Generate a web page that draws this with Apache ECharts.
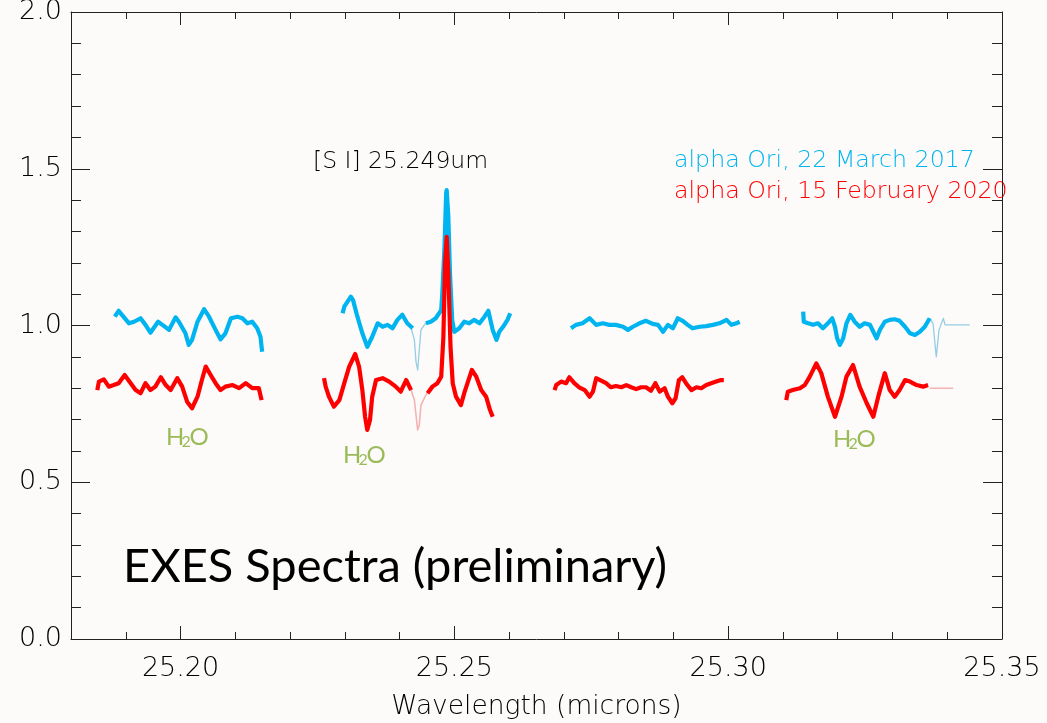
<!DOCTYPE html>
<html>
<head>
<meta charset="utf-8">
<script src="https://cdn.jsdelivr.net/npm/echarts@6/dist/echarts.min.js"></script>
<style>
html,body{margin:0;padding:0;background:#fcfbfa;}
#chart{width:1047px;height:723px;}
</style>
</head>
<body>
<div id="chart"></div>
<script>
// ---- Data (null separates spectral orders) ----
const blueWave = [
 25.1880,25.1887,25.1893,25.1906,25.1915,25.1927,25.1936,25.1945,25.1959,25.1970,25.1979,25.1991,25.1997,25.2009,25.2015,25.2021,25.2031,25.2043,25.2052,25.2064,25.2073,25.2082,25.2092,25.2104,25.2113,25.2122,25.2131,25.2140,25.2146,25.2149,
 null,
 25.2296,25.2299,25.2311,25.2315,25.2323,25.2332,25.2341,25.2350,25.2360,25.2369,25.2378,25.2387,25.2396,25.2405,25.2414,25.2424,
 null,
 25.2448,25.2457,25.2466,25.2476,25.2478,25.2482,25.2485,25.2486,25.2489,25.2492,25.2496,25.2500,25.2509,25.2518,25.2527,25.2536,25.2546,25.2555,25.2562,25.2570,25.2577,25.2582,25.2589,25.2597,25.2602,
 null,
 25.2713,25.2722,25.2734,25.2747,25.2759,25.2771,25.2783,25.2795,25.2808,25.2817,25.2826,25.2838,25.2850,25.2862,25.2872,25.2881,25.2890,25.2899,25.2908,25.2917,25.2926,25.2935,25.2948,25.2960,25.2972,25.2984,25.2997,25.3006,25.3015,25.3021,
 null,
 25.3137,25.3138,25.3146,25.3155,25.3164,25.3173,25.3182,25.3190,25.3195,25.3199,25.3204,25.3210,25.3216,25.3223,25.3231,25.3240,25.3249,25.3259,25.3265,25.3271,25.3277,25.3286,25.3295,25.3304,25.3313,25.3323,25.3332,25.3341,25.3350,25.3359,25.3368
];
const blueFlux = [
 1.028,1.047,1.034,1.007,1.012,1.023,1.002,0.977,1.012,0.998,0.986,1.026,1.012,0.975,0.938,0.954,1.012,1.052,1.028,0.986,0.956,0.975,1.023,1.028,1.023,1.007,1.012,0.991,0.964,0.916,
 null,
 1.039,1.060,1.092,1.081,1.028,0.975,0.932,0.964,1.007,0.996,1.002,0.991,1.018,1.034,1.007,0.991,
 null,
 1.007,1.012,1.023,1.049,1.103,1.251,1.422,1.432,1.347,1.167,1.018,0.980,0.991,1.012,1.007,1.018,1.007,1.028,1.047,0.986,0.954,0.980,0.996,1.018,1.039,
 null,
 0.991,1.002,1.007,1.023,1.002,1.007,1.002,1.002,0.996,0.986,0.996,1.007,1.015,1.005,1.002,0.980,1.002,0.991,1.023,1.015,1.002,0.991,0.996,0.998,1.002,1.007,1.018,1.002,1.007,1.012,
 null,
 1.044,1.012,1.007,1.002,1.007,0.991,1.007,1.023,0.996,0.959,0.938,0.959,1.007,1.034,1.012,0.996,1.007,1.002,0.980,0.959,0.986,1.012,1.018,1.020,1.015,0.996,0.975,0.970,0.980,0.996,1.023
];
// masked (telluric) parts of the 2017 spectrum
const blueMaskWave = [25.2421,25.2427,25.2430,25.2433,25.2436,25.2439,25.2448, null, 25.3368,25.3374,25.3380,25.3385,25.3393,25.3396,25.3441];
const blueMaskFlux = [0.992,0.954,0.884,0.858,0.922,0.986,1.008, null, 1.023,1.007,0.900,0.986,1.023,1.002,1.002];

const redWave = [
 25.1848,25.1851,25.1860,25.1869,25.1878,25.1887,25.1898,25.1909,25.1918,25.1927,25.1936,25.1945,25.1954,25.1964,25.1973,25.1982,25.1994,25.2003,25.2012,25.2021,25.2031,25.2039,25.2046,25.2055,25.2064,25.2073,25.2082,25.2095,25.2107,25.2119,25.2131,25.2143,25.2148,
 null,
 25.2262,25.2265,25.2271,25.2280,25.2290,25.2299,25.2308,25.2319,25.2326,25.2332,25.2337,25.2341,25.2346,25.2350,25.2357,25.2369,25.2381,25.2393,25.2402,25.2412,25.2421,
 null,
 25.2451,25.2460,25.2469,25.2476,25.2480,25.2483,25.2486,25.2489,25.2493,25.2497,25.2503,25.2512,25.2518,25.2524,25.2532,25.2540,25.2549,25.2558,25.2565,25.2570,
 null,
 25.2683,25.2686,25.2695,25.2704,25.2710,25.2719,25.2728,25.2738,25.2747,25.2753,25.2759,25.2768,25.2777,25.2786,25.2795,25.2805,25.2814,25.2823,25.2832,25.2841,25.2850,25.2859,25.2867,25.2875,25.2884,25.2890,25.2898,25.2904,25.2910,25.2916,25.2923,25.2933,25.2942,25.2951,25.2960,25.2969,25.2978,25.2987,25.2992,
 null,
 25.3106,25.3109,25.3118,25.3131,25.3140,25.3149,25.3161,25.3170,25.3182,25.3195,25.3207,25.3216,25.3228,25.3240,25.3253,25.3265,25.3274,25.3286,25.3295,25.3304,25.3313,25.3323,25.3332,25.3344,25.3356,25.3365
];
const redFlux = [
 0.794,0.821,0.828,0.805,0.810,0.816,0.842,0.816,0.794,0.784,0.816,0.794,0.805,0.835,0.810,0.794,0.832,0.805,0.757,0.736,0.773,0.826,0.869,0.842,0.816,0.794,0.805,0.810,0.800,0.816,0.800,0.800,0.762,
 null,
 0.832,0.805,0.773,0.741,0.762,0.816,0.869,0.909,0.869,0.794,0.709,0.667,0.699,0.773,0.826,0.832,0.821,0.805,0.789,0.826,0.794,
 null,
 0.784,0.805,0.816,0.837,0.964,1.198,1.283,1.167,0.932,0.816,0.773,0.746,0.784,0.816,0.858,0.837,0.794,0.773,0.731,0.709,
 null,
 0.794,0.810,0.821,0.816,0.835,0.816,0.803,0.794,0.773,0.789,0.832,0.824,0.816,0.803,0.807,0.803,0.810,0.803,0.797,0.803,0.803,0.792,0.816,0.789,0.800,0.773,0.752,0.768,0.826,0.835,0.816,0.794,0.803,0.800,0.810,0.816,0.821,0.826,0.826,
 null,
 0.762,0.789,0.794,0.800,0.810,0.837,0.879,0.848,0.773,0.709,0.773,0.837,0.874,0.805,0.752,0.709,0.773,0.848,0.794,0.773,0.794,0.826,0.821,0.810,0.805,0.810
];
const redMaskWave = [25.2421,25.2427,25.2433,25.2436,25.2439,25.2448,25.2451, null, 25.3368,25.3411];
const redMaskFlux = [0.794,0.762,0.667,0.683,0.746,0.778,0.784, null, 0.800,0.800];

const xTickValues = [25.20, 25.25, 25.30, 25.35];
const yTickValues = [0.0, 0.5, 1.0, 1.5, 2.0];
const xAxisName = 'Wavelength (microns)';
const legendLabels = ['alpha Ori, 22 March 2017', 'alpha Ori, 15 February 2020'];
const lineLabel = '[S I] 25.249um';
const titleText = 'EXES Spectra (preliminary)';

// ---- build ----
function segments(w, f) {
  const out = []; let cur = [];
  w.forEach((x, i) => {
    if (x === null) { if (cur.length) out.push(cur); cur = []; }
    else cur.push([x, f[i]]);
  });
  if (cur.length) out.push(cur);
  return out;
}
function mk(w, f, color, width) {
  return segments(w, f).map(d => ({
    type: 'line', data: d, showSymbol: false, symbol: 'none', silent: true,
    xAxisIndex: 0, yAxisIndex: 0,
    lineStyle: { color: color, width: width, join: 'round' }
  }));
}
const BLUE = '#00b4f0', RED = '#ff0000', GREEN = '#9bbb59', INK = '#000000';
const series = [].concat(
  mk(blueMaskWave, blueMaskFlux, '#95cde3', 1.3),
  mk(blueWave, blueFlux, BLUE, 4.2),
  mk(redMaskWave, redMaskFlux, '#f3b3b3', 1.6),
  mk(redWave, redFlux, RED, 4.2)
);

const FW = 200;
const axFont = { fontFamily: 'DejaVu Sans', fontWeight: FW, fontSize: 27, color: INK };
const lineCol = { color: '#222', width: 1 };
function xAx(pos, major, labels) {
  const a = {
    type: 'value', position: pos, min: 25.18, max: 25.35, interval: 0.01,
    axisLine: { show: !major, onZero: false, lineStyle: lineCol },
    axisTick: { show: true, inside: true, length: major ? 13 : 7, lineStyle: lineCol },
    axisLabel: { show: false },
    splitLine: { show: false }, axisPointer: { show: false }
  };
  if (major) a.axisTick.customValues = xTickValues;
  if (labels) {
    a.axisLabel = Object.assign({ show: true, customValues: xTickValues, margin: 16,
      formatter: v => Number(v).toFixed(2) }, axFont);
    a.name = xAxisName; a.nameLocation = 'middle'; a.nameGap = 55;
    a.nameTextStyle = { fontFamily: 'DejaVu Sans', fontWeight: FW, fontSize: 26.5, color: INK };
  }
  return a;
}
function yAx(pos, labels) {
  return {
    type: 'value', position: pos, min: 0, max: 2, interval: 0.5,
    axisLine: { show: true, onZero: false, lineStyle: lineCol },
    axisTick: { show: true, inside: true, length: 19, lineStyle: lineCol },
    minorTick: { show: true, splitNumber: 5, length: 10, lineStyle: lineCol },
    axisLabel: labels ? Object.assign({ show: true, margin: 9,
      formatter: v => Number(v).toFixed(1) }, axFont) : { show: false },
    splitLine: { show: false }, minorSplitLine: { show: false }
  };
}

function h2o(x0, yc) {
  const f = 'Lato';
  return {
    type: 'group', children: [
      { type: 'text', x: x0, y: yc, style: { text: 'H', fontFamily: f, fontSize: 24, fill: GREEN, verticalAlign: 'middle' } },
      { type: 'text', x: x0 + 15.5, y: yc + 5, style: { text: '2', fontFamily: f, fontSize: 16, fill: GREEN, verticalAlign: 'middle' } },
      { type: 'text', x: x0 + 23.5, y: yc, style: { text: 'O', fontFamily: f, fontSize: 24, fill: GREEN, verticalAlign: 'middle' } }
    ]
  };
}

const chart = echarts.init(document.getElementById('chart'), null, { renderer: 'canvas' });
chart.setOption({
  backgroundColor: '#fcfbfa',
  animation: false,
  grid: { left: 71, right: 45, top: 12, bottom: 84, containLabel: false, outerBoundsMode: 'none' },
  xAxis: [xAx('bottom', false, false), xAx('bottom', true, true), xAx('top', false, false), xAx('top', true, false)],
  yAxis: [yAx('left', true), yAx('right', false)],
  series: series,
  graphic: [
    { type: 'text', x: 313, y: 162, style: { text: lineLabel, fontFamily: 'DejaVu Sans', fontWeight: FW, fontSize: 23.5, fill: INK, verticalAlign: 'middle' } },
    { type: 'text', x: 674, y: 161, style: { text: legendLabels[0], fontFamily: 'DejaVu Sans', fontWeight: FW, fontSize: 23.7, fill: BLUE, verticalAlign: 'middle' } },
    { type: 'text', x: 674, y: 192, style: { text: legendLabels[1], fontFamily: 'DejaVu Sans', fontWeight: FW, fontSize: 23.7, fill: RED, verticalAlign: 'middle' } },
    { type: 'text', x: 123, y: 567, style: { text: titleText, fontFamily: 'Lato', fontSize: 47, fill: '#000', verticalAlign: 'middle' } },
    h2o(166, 437),
    h2o(343, 455),
    h2o(833, 439)
  ]
});
</script>
</body>
</html>
